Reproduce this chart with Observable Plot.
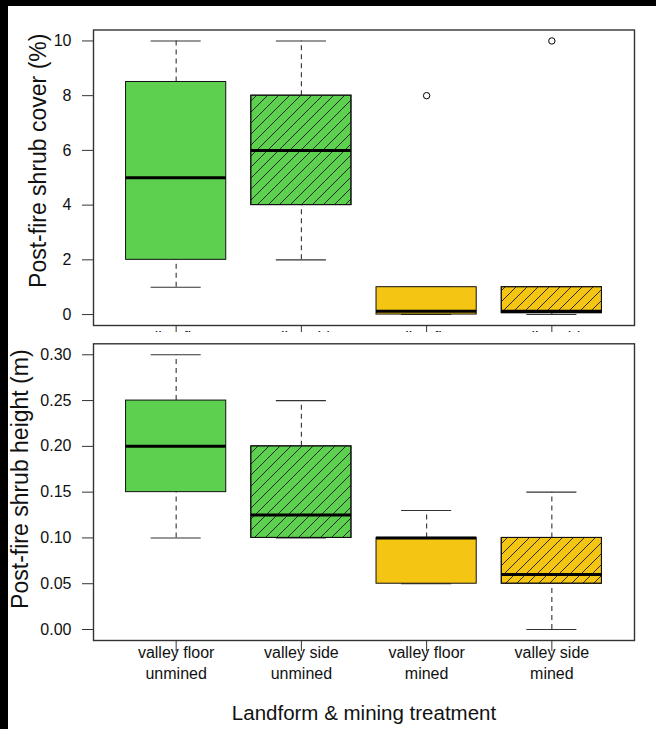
<!DOCTYPE html>
<html>
<head>
<meta charset="utf-8">
<script src="https://cdn.jsdelivr.net/npm/d3@7"></script>
<script src="https://cdn.jsdelivr.net/npm/@observablehq/plot@0.6"></script>
<style>
  html, body { margin: 0; padding: 0; background: #000; }
  #page { position: relative; width: 656px; height: 729px; background: #000; overflow: hidden; }
  #white { position: absolute; left: 8px; top: 6px; right: 0; bottom: 0; background: #fff; }
  #page svg { position: absolute; left: 0; top: 0; }
</style>
</head>
<body>
<div id="page"><div id="white"></div></div>
<script>
// ---- Data ----
const categories = ["valley floor\nunmined", "valley side\nunmined", "valley floor\nmined", "valley side\nmined"];
const boxColors = ["#5ed050", "#5ed050", "#f5c514", "#f5c514"];
const hatched = [false, true, false, true];

// Post-fire shrub cover (%)
const coverLow  = [1, 2, 0, 0];
const coverQ1   = [2, 4, 0, 0.05];
const coverMed  = [5, 6, 0.12, 0.12];
const coverQ3   = [8.5, 8, 1, 1];
const coverHigh = [10, 10, 1, 1];
const coverOutCat = [3, 4];
const coverOutVal = [8, 10];
const coverTicks = [0, 2, 4, 6, 8, 10];

// Post-fire shrub height (m)
const heightLow  = [0.10, 0.10, 0.05, 0.00];
const heightQ1   = [0.15, 0.10, 0.05, 0.05];
const heightMed  = [0.20, 0.125, 0.10, 0.06];
const heightQ3   = [0.25, 0.20, 0.10, 0.10];
const heightHigh = [0.30, 0.25, 0.13, 0.15];
const heightOutCat = [];
const heightOutVal = [];
const heightTicks = [0, 0.05, 0.10, 0.15, 0.20, 0.25, 0.30];

const xTitle = "Landform & mining treatment";
const fontFamily = "'Liberation Sans', Arial, Helvetica, sans-serif";

function panel(o) {
  const rows = categories.map((c, k) => ({
    i: k + 1, label: c, low: o.low[k], q1: o.q1[k], med: o.med[k], q3: o.q3[k], high: o.high[k],
    color: boxColors[k], hatched: hatched[k]
  }));
  const outs = o.outCat.map((c, k) => ({i: c, v: o.outVal[k]}));
  const marks = [
    // whiskers (dashed)
    Plot.ruleX(rows, {x: "i", y1: "q3", y2: "high", stroke: "#333", strokeWidth: 1.1, strokeDasharray: "5,4"}),
    Plot.ruleX(rows, {x: "i", y1: "low", y2: "q1", stroke: "#333", strokeWidth: 1.1, strokeDasharray: "5,4"}),
    // staples
    Plot.ruleY(rows, {y: "high", x1: d => d.i - 0.2, x2: d => d.i + 0.2, stroke: "#333", strokeWidth: 1.1}),
    Plot.ruleY(rows, {y: "low", x1: d => d.i - 0.2, x2: d => d.i + 0.2, stroke: "#333", strokeWidth: 1.1}),
    // boxes
    Plot.rect(rows, {x1: d => d.i - 0.4, x2: d => d.i + 0.4, y1: "q1", y2: "q3", fill: "color", stroke: "#111", strokeWidth: 1}),
    Plot.rect(rows.filter(d => d.hatched), {x1: d => d.i - 0.4, x2: d => d.i + 0.4, y1: "q1", y2: "q3", fill: `url(#${o.patternId})`, stroke: "#111", strokeWidth: 1}),
    // medians
    Plot.ruleY(rows, {y: "med", x1: d => d.i - 0.4, x2: d => d.i + 0.4, stroke: "#000", strokeWidth: 3}),
    // outliers
    Plot.dot(outs, {x: "i", y: "v", r: 3.2, stroke: "#000", fill: "white", strokeWidth: 1}),
    Plot.frame({stroke: "#333", strokeWidth: 1.4}),
    Plot.axisY({ticks: o.yTicks, tickFormat: o.yFormat, tickSize: 11, tickPadding: 11, fontSize: 16, label: null, stroke: "#333", color: "#111"}),
    Plot.axisX({ticks: [1, 2, 3, 4], tickFormat: () => "", tickSize: 11, label: null, stroke: "#333"}),
    Plot.text(rows, {x: "i", frameAnchor: "bottom", text: "label", lineAnchor: "top", dy: 2.5, lineHeight: 1.3, fontSize: 16, fill: "#111"}),
    Plot.text([o.yLabel], {frameAnchor: "left", textAnchor: "middle", text: d => d, rotate: -90, dx: o.labelDx, dy: o.labelDy, fontSize: 23, fill: "#111"})
  ];
  if (o.xTitle) {
    marks.push(Plot.text([o.xTitle], {frameAnchor: "bottom", text: d => d, lineAnchor: "top", dy: 65, fontSize: 20.5, fill: "#111"}));
  }
  const svg = Plot.plot({
    width: 656,
    height: o.height,
    marginLeft: 93,
    marginRight: 22,
    marginTop: o.marginTop,
    marginBottom: o.marginBottom,
    x: {type: "linear", domain: [0.34, 4.66]},
    y: {type: "linear", domain: o.yDomain},
    color: {type: "identity"},
    style: {background: "transparent", overflow: o.clip ? "hidden" : "visible", fontFamily: fontFamily, fontSize: "16px", color: "#111"},
    marks
  });
  const ns = "http://www.w3.org/2000/svg";
  const defs = document.createElementNS(ns, "defs");
  defs.innerHTML = `<pattern id="${o.patternId}" patternUnits="userSpaceOnUse" width="11" height="11">
    <path d="M-2.75,2.75 l5.5,-5.5 M0,11 l11,-11 M8.25,13.75 l5.5,-5.5" stroke="#1a1a1a" stroke-width="0.9" fill="none"/></pattern>`;
  svg.insertBefore(defs, svg.firstChild);
  return svg;
}

const page = document.getElementById("page");
page.appendChild(panel({
  low: coverLow, q1: coverQ1, med: coverMed, q3: coverQ3, high: coverHigh,
  outCat: coverOutCat, outVal: coverOutVal,
  yDomain: [-0.4, 10.4], yTicks: coverTicks, yFormat: d => String(d),
  yLabel: "Post-fire shrub cover (%)", labelDx: -55, labelDy: -17,
  height: 332, marginTop: 29.5, marginBottom: 7, patternId: "hatchTop", clip: true
}));
page.appendChild(panel({
  low: heightLow, q1: heightQ1, med: heightMed, q3: heightQ3, high: heightHigh,
  outCat: heightOutCat, outVal: heightOutVal,
  yDomain: [-0.012, 0.312], yTicks: heightTicks, yFormat: d3.format(".2f"),
  yLabel: "Post-fire shrub height (m)", labelDx: -73, labelDy: -13,
  height: 729, marginTop: 343.3, marginBottom: 89, patternId: "hatchBottom", clip: false,
  xTitle: xTitle
}));
</script>
</body>
</html>
